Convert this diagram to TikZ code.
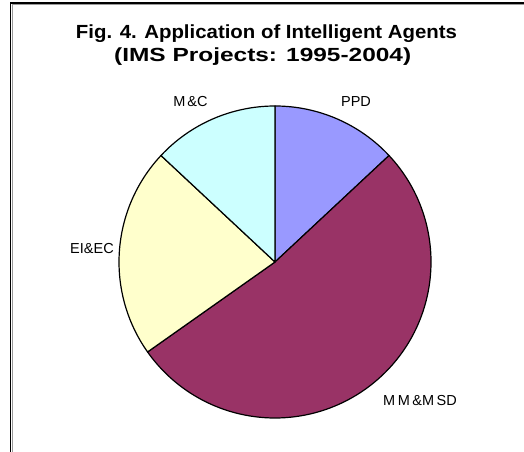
\documentclass[tikz,border=0pt]{standalone}
\usepackage{fontspec}
\setmainfont{Liberation Sans}
\usepackage{graphicx}
\definecolor{ppd}{HTML}{9999FF}
\definecolor{mmsd}{HTML}{993366}
\definecolor{eiec}{HTML}{FFFFCC}
\definecolor{mc}{HTML}{CCFFFF}
\definecolor{frameshade}{HTML}{9A9A9A}
\tikzset{
  slice/.style={draw=black, line width=1.2bp, line join=round},
  slicelabel/.style={font=\fontsize{14.5bp}{16bp}\selectfont, inner sep=0pt, text=black},
  titleline/.style={font=\bfseries\fontsize{19bp}{22bp}\selectfont, inner sep=0pt, anchor=base, text=black},
}
\newcommand{\pieslice}[3]{%
  \fill[#3] (0,0) -- (#1:156) arc[start angle=#1, end angle=#2, radius=156] -- cycle;
  \draw[slice] (0,0) -- (#1:156) arc[start angle=#1, end angle=#2, radius=156] -- cycle;
}
\begin{document}
\begin{tikzpicture}[x=1bp, y=1bp]
  \useasboundingbox (0,0) rectangle (524,452);
  \fill[white] (0,0) rectangle (524,452);

  % chart area frame (top and left edges)
  \draw[frameshade, line width=1bp] (12.2,0) -- (12.2,447.5) -- (524,447.5);
  \draw[black, line width=1.3bp] (10.7,0) -- (10.7,449) -- (524,449);

  % title
  \node[titleline] (title1) at (266.5,413.5)
    {\resizebox{381bp}{\height}{Fig. 4. Application of Intelligent Agents}};
  \node[titleline] (title2) at (262.7,390)
    {\resizebox{297bp}{\height}{(IMS Projects: 1995-2004)}};

  % pie
  \begin{scope}[shift={(275,190)}]
    \pieslice{90}{43.04}{ppd}
    \pieslice{43.04}{-144.78}{mmsd}
    \pieslice{-144.78}{-223.04}{eiec}
    \pieslice{136.96}{90}{mc}
  \end{scope}

  % slice labels
  \node[slicelabel] (lmc) at (190.5,350) {M\hspace{2bp}\&C};
  \node[slicelabel] (lppd) at (356,350) {PPD};
  \node[slicelabel] (leiec) at (92,203) {EI\&EC};
  \node[slicelabel] (lmmsd) at (420,51) {M\hspace{2.5bp}M\hspace{2.5bp}\&M\hspace{2.5bp}SD};
\end{tikzpicture}
\end{document}
